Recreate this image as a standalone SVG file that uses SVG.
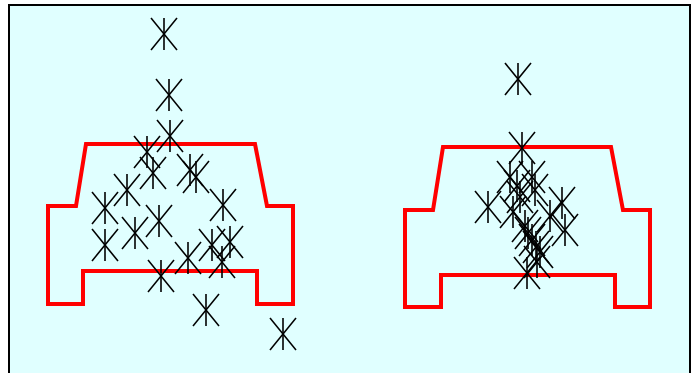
<svg xmlns="http://www.w3.org/2000/svg" xmlns:xlink="http://www.w3.org/1999/xlink" width="696" height="373" viewBox="0 0 696 373">
  <style>
    .car { fill: none; stroke: #ff0000; stroke-width: 4; stroke-linejoin: miter; }
    .star { fill: none; stroke: #000000; stroke-width: 1.6; }
  </style>
  <defs>
    <!-- six-armed marker: one vertical stroke and two diagonals -->
    <g id="mark" class="star">
      <line x1="0" y1="-16" x2="0" y2="16"/>
      <line x1="-13" y1="-16" x2="13" y2="16"/>
      <line x1="13" y1="-16" x2="-13" y2="16"/>
    </g>
  </defs>

  <!-- panel -->
  <rect x="0" y="0" width="696" height="373" fill="#ffffff"/>
  <rect x="9" y="5" width="681" height="369" fill="#e0ffff" stroke="#000000" stroke-width="2"/>

  <!-- left outline and scattered points -->
  <g id="left">
    <polygon class="car" points="86,144 255,144 267,206 293,206 293,304 257,304 257,271 83,271 83,304 48,304 48,206 76,206"/>
    <use xlink:href="#mark" x="164" y="34"/>
    <use xlink:href="#mark" x="169" y="95"/>
    <use xlink:href="#mark" x="170" y="136"/>
    <use xlink:href="#mark" x="147" y="152"/>
    <use xlink:href="#mark" x="153" y="173"/>
    <use xlink:href="#mark" x="190" y="170"/>
    <use xlink:href="#mark" x="196" y="177"/>
    <use xlink:href="#mark" x="127" y="190"/>
    <use xlink:href="#mark" x="105" y="208"/>
    <use xlink:href="#mark" x="223" y="205"/>
    <use xlink:href="#mark" x="159" y="221"/>
    <use xlink:href="#mark" x="135" y="233"/>
    <use xlink:href="#mark" x="105" y="245"/>
    <use xlink:href="#mark" x="212" y="245"/>
    <use xlink:href="#mark" x="230" y="242"/>
    <use xlink:href="#mark" x="222" y="262"/>
    <use xlink:href="#mark" x="188" y="258"/>
    <use xlink:href="#mark" x="161" y="276"/>
    <use xlink:href="#mark" x="206" y="310"/>
    <use xlink:href="#mark" x="283" y="334"/>
  </g>

  <!-- right outline and clustered points -->
  <g id="right">
    <polygon class="car" points="443,147 611,147 623,210 650,210 650,307 615,307 615,275 441,275 441,307 405,307 405,210 433,210"/>
    <use xlink:href="#mark" x="518" y="79"/>
    <use xlink:href="#mark" x="522" y="148"/>
    <use xlink:href="#mark" x="510" y="177"/>
    <use xlink:href="#mark" x="532" y="177"/>
    <use xlink:href="#mark" x="517" y="186"/>
    <use xlink:href="#mark" x="535" y="190"/>
    <use xlink:href="#mark" x="520" y="197"/>
    <use xlink:href="#mark" x="488" y="207"/>
    <use xlink:href="#mark" x="562" y="203"/>
    <use xlink:href="#mark" x="513" y="212"/>
    <use xlink:href="#mark" x="550" y="216"/>
    <use xlink:href="#mark" x="525" y="226"/>
    <use xlink:href="#mark" x="565" y="230"/>
    <use xlink:href="#mark" x="528" y="233"/>
    <use xlink:href="#mark" x="532" y="240"/>
    <use xlink:href="#mark" x="536" y="247"/>
    <use xlink:href="#mark" x="540" y="252"/>
    <use xlink:href="#mark" x="537" y="262"/>
    <use xlink:href="#mark" x="527" y="273"/>
  </g>
</svg>
